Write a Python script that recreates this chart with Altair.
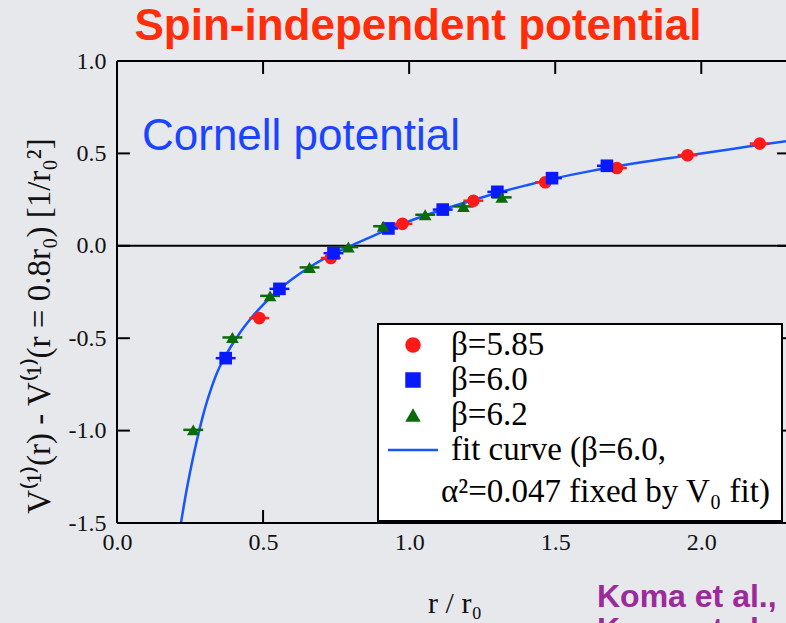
import altair as alt
import pandas as pd

# --- measured potential, three lattice couplings ---
r_585 = [0.487, 0.732, 0.977, 1.220, 1.466, 1.711, 1.953, 2.200]
v_585 = [-0.391, -0.066, 0.119, 0.244, 0.344, 0.421, 0.490, 0.553]
e_585 = [0.034, 0.034, 0.034, 0.034, 0.034, 0.034, 0.034, 0.034]

r_600 = [0.372, 0.556, 0.741, 0.929, 1.115, 1.302, 1.489, 1.677]
v_600 = [-0.608, -0.233, -0.040, 0.094, 0.196, 0.292, 0.366, 0.433]
e_600 = [0.034, 0.034, 0.034, 0.034, 0.034, 0.034, 0.034, 0.034]

r_620 = [0.261, 0.395, 0.524, 0.659, 0.792, 0.911, 1.055, 1.186, 1.317]
v_620 = [-0.996, -0.496, -0.271, -0.117, -0.007, 0.106, 0.168, 0.213, 0.262]
e_620 = [0.034, 0.034, 0.034, 0.034, 0.034, 0.034, 0.034, 0.034, 0.034]

# --- fit curve (beta=6.0) ---
fit_r = [0.219, 0.235, 0.250, 0.265, 0.282, 0.295, 0.307, 0.320, 0.336, 0.350,
         0.370, 0.390, 0.410, 0.435, 0.461, 0.490, 0.524, 0.556, 0.600, 0.660,
         0.720, 0.790, 0.860, 0.930, 1.000, 1.100, 1.200, 1.310, 1.400, 1.490,
         1.620, 1.800, 1.950, 2.100, 2.200, 2.300]
fit_v = [-1.500, -1.350, -1.226, -1.112, -0.996, -0.915, -0.848, -0.784, -0.713, -0.660,
         -0.600, -0.545, -0.496, -0.440, -0.388, -0.336, -0.281, -0.235, -0.180, -0.115,
         -0.060, -0.007, 0.042, 0.090, 0.133, 0.188, 0.238, 0.290, 0.327, 0.362,
         0.404, 0.453, 0.488, 0.523, 0.547, 0.568]

series_names = ["β=5.85", "β=6.0", "β=6.2"]
series_colors = ["#ff1a1a", "#0a1aff", "#0b6b0b"]
series_shapes = ["circle", "square", "triangle-up"]

x_ticks = [0.5, 1.0, 1.5, 2.0]
y_ticks = [-1.5, -1.0, -0.5, 0.0, 0.5, 1.0]

W, H = 669, 462
SERIF = "Liberation Serif"
SANS = "Liberation Sans"

rows = []
for name, rs, vs, es in zip(series_names, [r_585, r_600, r_620],
                            [v_585, v_600, v_620], [e_585, e_600, e_620]):
    for r, v, e in zip(rs, vs, es):
        rows.append({"series": name, "r": r, "v": v, "lo": r - e, "hi": r + e})
pts = pd.DataFrame(rows)
fit = pd.DataFrame({"r": fit_r, "v": fit_v})

# plain hyphen for negative tick labels
hyphen = "replace(format(datum.value, '.1f'), '\u2212', '-')"

xs = alt.Scale(domain=[0, 2.29], nice=False, zero=False)
ys = alt.Scale(domain=[-1.5, 1.0], nice=False, zero=False)
x_axis = alt.Axis(values=[0.0, 0.5, 1.0, 1.5, 2.0], labelExpr=hyphen, ticks=False, domain=False,
                  grid=False, labelFont=SERIF, labelFontSize=24, labelColor="#111",
                  labelPadding=7, labelFlush=False, title=None)
y_axis = alt.Axis(values=y_ticks, labelExpr=hyphen, ticks=False, domain=False, grid=False,
                  labelFont=SERIF, labelFontSize=24, labelColor="#111",
                  labelPadding=11, labelFlush=False, title=None)
X = alt.X("r:Q", scale=xs, axis=x_axis)
Y = alt.Y("v:Q", scale=ys, axis=y_axis)
col = alt.Color("series:N", scale=alt.Scale(domain=series_names, range=series_colors), legend=None)
shp = alt.Shape("series:N", scale=alt.Scale(domain=series_names, range=series_shapes), legend=None)

one = pd.DataFrame({"k": [0]})


def text(t, x, y, **kw):
    return alt.Chart(pd.DataFrame({"t": [t]})).mark_text(**kw).encode(
        x=alt.value(x), y=alt.value(y), text="t:N")


def hline(y, x0, x1, color="black", w=2):
    return alt.Chart(one).mark_rule(color=color, strokeWidth=w).encode(
        x=alt.value(x0), x2=alt.value(x1), y=alt.value(y))


def vline(x, y0, y1, color="black", w=2):
    return alt.Chart(one).mark_rule(color=color, strokeWidth=w).encode(
        y=alt.value(y0), y2=alt.value(y1), x=alt.value(x))


# frame and inward ticks
frame = hline(0, 0, W) + hline(H, 0, W) + vline(0, 0, H)
xt = pd.DataFrame({"r": x_ticks})
yt = pd.DataFrame({"v": y_ticks})
top_ticks = alt.Chart(xt).mark_rule(color="black", strokeWidth=2).encode(
    x=X, y=alt.value(0), y2=alt.value(13))
bot_ticks = alt.Chart(xt).mark_rule(color="black", strokeWidth=2).encode(
    x=X, y=alt.value(H), y2=alt.value(H - 13))
left_ticks = alt.Chart(yt).mark_rule(color="black", strokeWidth=2).encode(
    y=Y, x=alt.value(0), x2=alt.value(13))
right_ticks = alt.Chart(yt).mark_rule(color="black", strokeWidth=2).encode(
    y=Y, x=alt.value(W - 9), x2=alt.value(W))
zero_line = alt.Chart(pd.DataFrame({"v": [0.0]})).mark_rule(color="black", strokeWidth=2).encode(
    y=Y, x=alt.value(0), x2=alt.value(W))

curve = alt.Chart(fit).mark_line(color="#1656ff", strokeWidth=2.5, interpolate="monotone",
                                 clip=True).encode(x=X, y=Y)
bars = alt.Chart(pts).mark_rule(strokeWidth=2.5).encode(
    x=alt.X("lo:Q", scale=xs, axis=x_axis), x2="hi:Q", y=Y, color=col)
marks = alt.Chart(pts).mark_point(filled=True, opacity=1, size=160).encode(
    x=X, y=Y, color=col, shape=shp)

# legend panel
box = alt.Chart(one).mark_rect(fill="white", stroke="black", strokeWidth=2).encode(
    x=alt.value(261), x2=alt.value(665), y=alt.value(263), y2=alt.value(460))
LX, TX = 296, 334
leg_rows = [284, 319, 354]
FS = 33
leg = box
for name, c, s, yy in zip(series_names, series_colors, series_shapes, leg_rows):
    leg += alt.Chart(one).mark_point(filled=True, opacity=1, shape=s, color=c, size=240).encode(
        x=alt.value(LX), y=alt.value(yy))
    leg += text(name, TX, yy, font=SERIF, fontSize=FS, align="left", baseline="middle", color="black")
leg += hline(389, 271, 321, color="#1656ff", w=2.5)
leg += text("fit curve (β=6.0,", TX, 389, font=SERIF, fontSize=FS, align="left",
            baseline="middle", color="black")
leg += text("α²=0.047 fixed by V₀ fit)", 324, 431, font=SERIF, fontSize=FS, align="left",
            baseline="middle", color="black")

labels = (
    text("Spin-independent potential", 301, -21, font=SANS, fontSize=44, fontWeight="bold",
         align="center", baseline="alphabetic", color="#ff2d0a")
    + text("Cornell potential", 25, 89, font=SANS, fontSize=44, align="left",
           baseline="alphabetic", color="#1a44ff")
    + text("V⁽¹⁾(r) - V⁽¹⁾(r = 0.8r₀)    [1/r₀²]", -77, 265, font=SERIF, fontSize=33,
           angle=270, align="center", baseline="middle", color="#111")
    + text("r / r₀", 338, 552, font=SERIF, fontSize=30, align="center",
           baseline="alphabetic", color="#111")
    + text("Koma et al.,", 480, 546, font=SANS, fontSize=32, fontWeight="bold", align="left",
           baseline="alphabetic", color="#9b2a9b")
    + text("Koma et al.", 480, 579, font=SANS, fontSize=32, fontWeight="bold", align="left",
           baseline="alphabetic", color="#9b2a9b")
)

chart = alt.layer(
    zero_line, curve, bars, marks, top_ticks, bot_ticks, left_ticks, right_ticks, frame,
    leg, labels
).properties(
    width=W, height=H,
    autosize=alt.AutoSizeParams(type="none"),
    padding={"left": 117, "top": 61, "right": 0, "bottom": 100},
).configure(background="#e7e8ec").configure_view(stroke=None)

chart.save("out.html", embed_options={"renderer": "svg", "actions": False})
